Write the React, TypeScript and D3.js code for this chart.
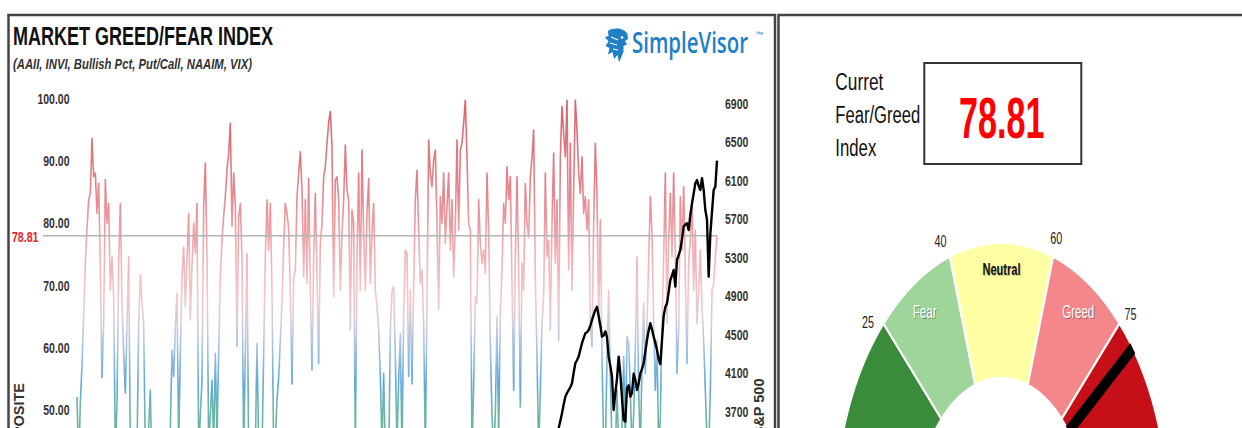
import React from "react";
import * as d3 from "d3";

// Composite greed/fear index, evenly spaced observations (oldest -> latest)
const compositeValues: number[] = [
  52.9, 42, 52, 58, 66, 74.4, 80, 84.6, 85.6, 94.5, 88.3, 88.9, 82.4, 87.2, 74, 56, 64.7, 87.8, 80.8, 84,
  70, 75.4, 69, 44, 51.9, 74.4, 84, 68, 60, 53.5, 64.7, 75.4, 45, 42, 40, 38, 44, 64.7, 72.5, 68,
  64.7, 44, 42, 48, 54, 40, 38, 35, 40, 37, 34, 39, 42, 38, 40, 44, 48, 60.4, 56.2, 64,
  69.6, 45, 60, 72.2, 77, 67.4, 75, 82.4, 65.3, 74, 80.8, 76, 84, 44, 50, 55.6, 83.5, 90.5, 75.4, 45,
  50, 55.6, 45, 59.9, 46, 60, 72.2, 78.1, 82, 85.1, 89.4, 92, 96.9, 80.3, 88.9, 83.5, 61, 81.9, 84, 75.4,
  44, 60, 76, 44, 40, 43, 38, 45, 61.5, 45, 42, 44, 60, 75.4, 84.6, 76.5, 84, 70, 44, 46,
  52.4, 56, 62, 68, 77, 84, 82.4, 80,
  69, 55, 72, 73.3, 85, 88.9, 92.3, 86.2, 72.2, 84.6, 71.2, 88, 70, 57.2, 75.4, 85.6, 72.2, 58.3, 77.6, 80.8,
  88.3, 89.9, 93.7, 97, 98.8, 93.1, 69, 87.8, 88.3, 84.6, 70, 79.2, 84.6, 93.4, 86.2, 84.6, 63.7, 83, 80.8, 44,
  75.4, 88.9, 70, 92.6, 79.2, 70, 82.4, 88, 71.2, 79.7, 84, 70, 67.4, 63.7, 56.2, 45, 56.7, 44, 40, 42,
  63.7, 70, 70.6, 59.4, 45, 55.6, 63.1, 44, 65.8, 76.5, 76, 56.2, 70, 55, 70.6, 84.6, 89.4, 79.7, 71.2, 73.3,
  64.7, 44, 68.5, 94.2, 88.9, 86.7, 91, 92.6, 80.8, 66.9, 85.1, 80.8, 88.9, 77.6, 83.5, 88.9, 76.5, 84.6, 72.2, 80.8,
  94.2, 79.7, 92.6, 93.7, 96.9, 100.6, 91.5, 80.8, 79.7, 44, 55, 69, 68, 84.6, 77.6, 74.4, 76.5, 72.8, 88.9, 79.7,
  61.5, 50, 44, 50, 65.8, 46, 66.3, 73.3, 84, 80.8, 89.9, 84.6,
  88.3, 71.2, 54, 75.4, 88.3, 73.3, 51.3, 74.4, 70, 87.2, 80.8, 78.6, 88.3, 91.5, 95.8, 72.2, 59.4, 44, 54, 64.7,
  69, 88.9, 75.4, 78.1, 63.7, 80.8, 92.1, 74.4, 84.6, 62, 91.5, 99.6, 95.3, 91.5, 100.6, 73.3, 93.7, 70, 86.2, 100.6,
  95.8, 88.9, 85.6, 91.5, 82.4, 85.1, 79.7, 84.6, 64.7, 61, 80.8, 93.7, 85.1, 64.7, 81.4, 59.4, 45, 44, 59.4, 70,
  56.2, 45, 42, 44, 54, 45, 42, 48, 59.4, 45, 62.6, 61.5, 54, 44, 50, 60.4, 75.4, 54, 44, 58.3,
  68, 56.7, 64.7, 75, 85.1, 79.2, 64.7, 54, 62, 44, 49.7, 64.7, 75.4, 88.9, 64.7, 78.1, 85.6, 75.4, 88.9, 75.4,
  56.7, 63.7, 85.1, 76.5, 86.7, 72.2, 58.3, 74.4, 78.1, 84.6, 70, 79.7, 64.7, 70, 76.5, 67.4, 62, 54, 46, 44,
  54, 70, 71.2, 75.4, 78.81,
];

// S&P 500, aligned with the latest observations of the composite
const spxValues: number[] = [
  3537, 3610, 3689, 3780, 3862, 3900, 3931, 3960, 4001, 4110, 4209, 4240, 4278, 4350, 4417, 4470, 4520, 4530, 4554, 4600,
  4658, 4710, 4762, 4796, 4700, 4600, 4485, 4500, 4540, 4480, 4277, 4180, 4069, 3724, 3900, 4050, 4277, 4100, 3850, 3620,
  3602, 3950, 3980, 3862, 3900, 4100, 4040, 3931, 4000, 4104, 4150, 4209, 4330, 4450, 4550, 4624, 4560, 4485, 4420, 4347,
  4250, 4200, 4450, 4700, 4790, 4831, 4950, 5073, 5120, 5177, 5004, 5281, 5330, 5385, 5500, 5627, 5650, 5662, 5592, 5750,
  5869, 5970, 6077, 6110, 6050, 6007, 6129, 6007, 5800, 5700, 5107, 5550, 5780, 6007, 6042, 6312,
];

const leftTicks = [100, 90, 80, 70, 60, 50];
const rightTicks = [6900, 6500, 6100, 5700, 5300, 4900, 4500, 4100, 3700];
const currentReading = 78.81;

const gaugeBreaks = [0, 25, 40, 60, 75, 100];
const gaugeColors = ["#3a8b3a", "#9dd59b", "#ffffa3", "#f4878a", "#c70f18"];
const gaugeTickValues = [25, 40, 60, 75];
const gaugeZoneLabels = ["Fear", "Neutral", "Greed"];
const gaugeZoneCenters = [32.5, 50, 67.5];

const gradStops: [number, string][] = [
  [100, "#d23c48"],
  [86, "#e0666f"],
  [76, "#ee9ca1"],
  [69, "#f3b8bb"],
  [64.5, "#c6c0d6"],
  [60, "#7fb0d8"],
  [55, "#3a92cf"],
  [51.5, "#4aa39b"],
  [45, "#3e9c7c"],
];

const FONT = "'Liberation Sans', Arial, Helvetica, sans-serif";

function SText(props: any) {
  const { x, y, sx = 0.8, anchor = "start", children, ...rest } = props;
  return (
    <text transform={`translate(${x},${y}) scale(${sx},1)`} textAnchor={anchor} fontFamily={FONT} {...rest}>
      {children}
    </text>
  );
}

export default function App() {
  const n = compositeValues.length;
  const x = d3.scaleLinear().domain([0, n - 1]).range([77, 717]);
  const yL = d3.scaleLinear().domain([0, 100]).range([726, 104]);
  const yR = d3.scaleLinear().domain([3700, 6900]).range([412.3, 104]);
  const spxOffset = n - spxValues.length;
  const compLine = d3.line<number>().x((_, i) => x(i)).y((d) => yL(d));
  const spxLine = d3.line<number>().x((_, i) => x(i + spxOffset)).y((d) => yR(d));
  const fmt = d3.format(".2f");

  const g0 = yL(100), g1 = yL(40);

  // gauge
  const gcx = 1001.5, gcy = 518, gsx = 0.607, rIn = 140, rOut = 275;
  const ang = d3.scaleLinear().domain([0, 100]).range([-Math.PI / 2, Math.PI / 2]);
  const arc = d3.arc<any>().innerRadius(rIn).outerRadius(rOut);
  const gpt = (v: number, r: number) => {
    const a = ang(v);
    return [gcx + gsx * r * Math.sin(a), gcy - r * Math.cos(a)];
  };
  const needleDeg = (ang(currentReading) * 180) / Math.PI;

  return (
    <svg width={1242} height={428} style={{ position: "absolute", left: 0, top: 0, background: "#fff" }}>
      <defs>
        <linearGradient id="compGrad" gradientUnits="userSpaceOnUse" x1={0} y1={g0} x2={0} y2={g1}>
          {gradStops.map(([v, c], i) => (
            <stop key={i} offset={(yL(v) - g0) / (g1 - g0)} stopColor={c} />
          ))}
        </linearGradient>
        <clipPath id="gclip">
          <path d={arc({ startAngle: -Math.PI / 2, endAngle: Math.PI / 2 }) as string} />
        </clipPath>
      </defs>
      <rect x={0} y={0} width={1242} height={428} fill="#fff" />

      {/* panel frames */}
      <path d="M8.5,430 V15 H775 V430" fill="none" stroke="#444" strokeWidth={2.5} />
      <path d="M778.5,430 V15 H1245" fill="none" stroke="#444" strokeWidth={2.5} />

      {/* title */}
      <text x={13} y={45} fontFamily={FONT} fontWeight="bold" fontSize={26} fill="#111" textLength={260} lengthAdjust="spacingAndGlyphs">
        MARKET GREED/FEAR INDEX
      </text>
      <text x={13} y={69} fontFamily={FONT} fontWeight="bold" fontStyle="italic" fontSize={14.5} fill="#333" textLength={239} lengthAdjust="spacingAndGlyphs">
        (AAII, INVI, Bullish Pct, Put/Call, NAAIM, VIX)
      </text>

      {/* logo */}
      <g transform="translate(605,28)" fill="#1f80c6">
        <path d="M3,3 C9,-1 19,0 22.5,6 L23,11 L20,13 L22,16.5 L18.5,18 L18.5,24 L14,34.5 L12.5,27 L9,31 L7.5,24 L3,26.5 L4.5,20 L0.5,18 L3.5,13.5 L0,9 L3.5,8 Z" />
        <path d="M6,9 L13,12 M5,15 L12,17 M8,21 L13,22" stroke="#fff" strokeWidth={1.2} fill="none" />
        <circle cx={17} cy={9.5} r={1.3} fill="#fff" />
      </g>
      <text x={632} y={53} fontFamily="'Open Sans', 'Noto Sans', sans-serif" fontWeight={600} fontSize={29} fill="#1f80c6" textLength={116} lengthAdjust="spacingAndGlyphs">
        SimpleVisor
      </text>
      <text x={755} y={37} fontFamily={FONT} fontSize={8} fill="#1f80c6">™</text>

      {/* composite line */}
      <path d={compLine(compositeValues) as string} fill="none" stroke="url(#compGrad)" strokeWidth={1.6} strokeOpacity={0.8} strokeLinejoin="round" />

      {/* current reference line */}
      <line x1={43} x2={717} y1={yL(currentReading)} y2={yL(currentReading)} stroke="#b4b4b4" strokeWidth={1.6} />
      <SText x={38.5} y={yL(currentReading) + 6} anchor="end" sx={0.76} fontWeight="bold" fontSize={14} fill="#e8232c">
        {fmt(currentReading)}
      </SText>

      {/* S&P line */}
      <path d={spxLine(spxValues) as string} fill="none" stroke="#000" strokeWidth={2.4} strokeLinejoin="round" />

      {/* axes */}
      {leftTicks.map((t) => (
        <SText key={t} x={69.5} y={yL(t)} anchor="end" sx={0.75} fontWeight="bold" fontSize={14} fill="#333">
          {fmt(t)}
        </SText>
      ))}
      {rightTicks.map((t) => (
        <SText key={t} x={725} y={yR(t) + 4.5} sx={0.75} fontWeight="bold" fontSize={14} fill="#333">
          {t}
        </SText>
      ))}
      <text transform="translate(24,383) rotate(-90)" textAnchor="end" fontFamily={FONT} fontWeight="bold" fontSize={14.5} fill="#333">
        GREED/FEAR COMPOSITE
      </text>
      <text transform="translate(763.5,378.5) rotate(-90)" textAnchor="end" fontFamily={FONT} fontWeight="bold" fontSize={14.5} fill="#333">
        S&amp;P 500
      </text>

      {/* right panel: current reading */}
      <text x={835.3} y={90} fontFamily={FONT} fontSize={23} fill="#111" textLength={48} lengthAdjust="spacingAndGlyphs">Curret</text>
      <text x={835.3} y={122.5} fontFamily={FONT} fontSize={23} fill="#111" textLength={85} lengthAdjust="spacingAndGlyphs">Fear/Greed</text>
      <text x={835.3} y={155.5} fontFamily={FONT} fontSize={23} fill="#111" textLength={41} lengthAdjust="spacingAndGlyphs">Index</text>
      <rect x={924.3} y={63} width={157} height={101} fill="#fff" stroke="#333" strokeWidth={2} />
      <text x={959} y={137.5} fontFamily={FONT} fontWeight="bold" fontSize={58} fill="#ff0000" textLength={85.5} lengthAdjust="spacingAndGlyphs">
        {fmt(currentReading)}
      </text>

      {/* gauge */}
      <g transform={`translate(${gcx},${gcy}) scale(${gsx},1)`}>
        {gaugeColors.map((c, i) => (
          <path
            key={i}
            d={arc({ startAngle: ang(gaugeBreaks[i]), endAngle: ang(gaugeBreaks[i + 1]) }) as string}
            fill={c}
            stroke="#fff"
            strokeWidth={2.2}
            vectorEffect="non-scaling-stroke"
          />
        ))}
        <g clipPath="url(#gclip)">
          <rect x={-6.5} y={-rOut - 5} width={13} height={rOut - rIn + 5} fill="#000" transform={`rotate(${needleDeg})`} />
        </g>
      </g>
      {gaugeTickValues.map((v) => {
        const [px, py] = gpt(50 + (v - 50) * 1.052 - 0.6, 294);
        return (
          <text key={v} x={px} y={py} dy="0.35em" textAnchor="middle" fontFamily={FONT} fontSize={16} fill="#222" textLength={12} lengthAdjust="spacingAndGlyphs">
            {v}
          </text>
        );
      })}
      {gaugeZoneLabels.map((lab, i) => {
        const [px, py] = gpt(gaugeZoneCenters[i], lab === "Neutral" ? 249 : 242);
        const isN = lab === "Neutral";
        const tl = isN ? 38 : lab === "Fear" ? 24 : 32;
        return (
          <g key={lab}>
            <text x={px + 0.8} y={py + 0.8} dy="0.35em" textAnchor="middle" fontFamily={FONT} fontSize={isN ? 16.5 : 18} fontWeight={isN ? "bold" : "normal"} fill={isN ? "rgba(0,0,0,0.25)" : "rgba(0,0,0,0.35)"} textLength={tl} lengthAdjust="spacingAndGlyphs">
              {lab}
            </text>
            <text x={px} y={py} dy="0.35em" textAnchor="middle" fontFamily={FONT} fontSize={isN ? 16.5 : 18} fontWeight={isN ? "bold" : "normal"} fill={isN ? "#111" : "#fff"} textLength={tl} lengthAdjust="spacingAndGlyphs">
              {lab}
            </text>
          </g>
        );
      })}
    </svg>
  );
}
